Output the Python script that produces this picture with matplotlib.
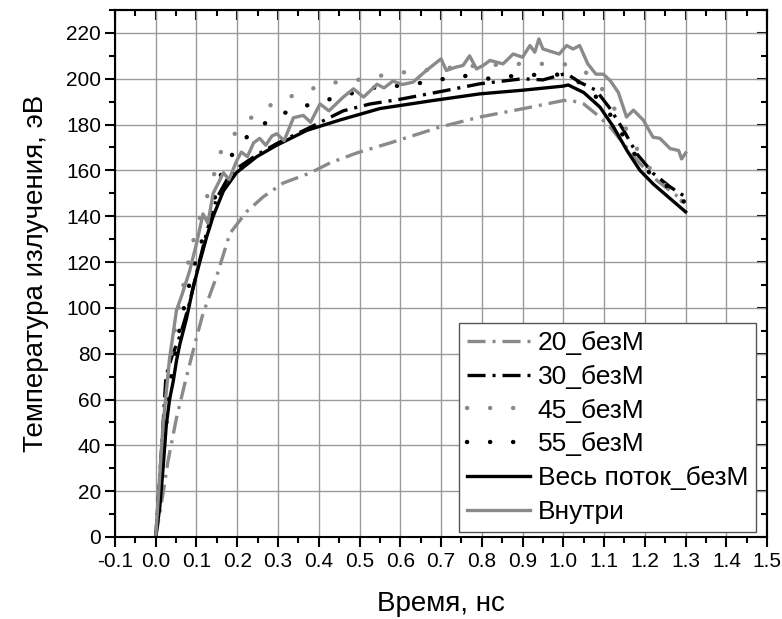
import numpy as np
import matplotlib
matplotlib.use('Agg')
import matplotlib.pyplot as plt
from matplotlib.ticker import MultipleLocator, FormatStrFormatter

plt.rcParams['font.family'] = ['Liberation Sans', 'DejaVu Sans']
plt.rcParams['axes.unicode_minus'] = False
plt.rcParams['lines.scale_dashes'] = False

# --- data (time in ns, temperature in eV) ---
t20 = [0, 0.018, 0.03, 0.051, 0.075, 0.1, 0.116, 0.149, 0.182, 0.223, 0.264, 0.313, 0.379,
       0.428, 0.493, 0.575, 0.697, 0.795, 0.90, 1.0, 1.02, 1.05, 1.08, 1.115, 1.148, 1.188,
       1.229, 1.27, 1.30]
T20 = [0, 19, 33, 52, 69.6, 87, 97.5, 113.5, 132.5, 142, 148.5, 154.5, 158.9,
       163.3, 167.6, 172, 178.9, 183.3, 186.9, 190.5, 190.5, 189, 184.7, 178.9, 171.6, 163,
       155.7, 150, 146.2]

t30 = [0, 0.015, 0.025, 0.04, 0.06, 0.08, 0.1, 0.125, 0.15, 0.175, 0.2, 0.25, 0.3, 0.37,
       0.46, 0.526, 0.598, 0.713, 0.795, 0.9, 0.95, 1.0, 1.01, 1.04, 1.08, 1.115, 1.148, 1.18,
       1.221, 1.262, 1.30]
T30 = [0, 40, 70, 79, 88, 100, 115, 133, 148, 156, 161, 167, 172, 178,
       186, 189, 191, 194.9, 197.8, 200, 199.5, 202, 202, 198.5, 195, 186.9, 177.5, 167.3,
       158.6, 152.8, 148.4]

t45 = [0, 0.02, 0.05, 0.08, 0.1, 0.125, 0.145, 0.161, 0.194, 0.231, 0.272, 0.313, 0.362,
       0.403, 0.444, 0.485, 0.534, 0.584, 0.623, 0.7, 0.795, 0.893, 1.0, 1.05, 1.09, 1.123,
       1.156, 1.196, 1.237, 1.27, 1.30]
T45 = [0, 50, 95, 120, 135, 148, 159.3, 168.7, 176, 182.6, 187.6, 191.2, 194.1,
       197, 198.5, 199.2, 200.7, 202.5, 203, 204.5, 205.8, 206.5, 206.5, 203.6, 197, 187.6,
       177.5, 164.4, 155.7, 150, 145]

t55 = [0, 0.02, 0.04, 0.06, 0.075, 0.1, 0.124, 0.145, 0.161, 0.186, 0.219, 0.26, 0.30,
       0.354, 0.403, 0.444, 0.5, 0.543, 0.588, 0.664, 0.75, 0.82, 0.885, 0.975, 1.0, 1.057,
       1.09, 1.123, 1.15, 1.18, 1.22, 1.27, 1.30]
T55 = [0, 40, 72, 92, 105, 122, 135, 148, 158.6, 166.5, 173.9, 179.7, 184,
       187.6, 189.8, 192, 194.5, 196.4, 196.8, 198.5, 201.4, 200, 201.4, 202, 201.5, 197,
       190, 182.5, 174, 165.8, 157.1, 151.3, 145.5]

t_full = [0, 0.01, 0.018, 0.026, 0.034, 0.043, 0.051, 0.059, 0.075, 0.092, 0.108, 0.125,
          0.141, 0.166, 0.198, 0.248, 0.297, 0.371, 0.452, 0.55, 0.68, 0.795, 0.90, 1.0,
          1.012, 1.05, 1.09, 1.123, 1.156, 1.188, 1.221, 1.262, 1.30]
T_full = [0, 13, 30, 49, 60, 68, 77, 84, 95, 109, 120, 131,
          140, 151, 159, 166, 171, 177.5, 182, 187, 190.5, 193.4, 195, 196.8,
          197.3, 194, 187.6, 179, 168.7, 160, 154, 147.7, 141.9]

t_in = [0, 0.018, 0.034, 0.051, 0.065, 0.083, 0.1, 0.116, 0.128, 0.141, 0.155, 0.166, 0.18,
        0.198, 0.21, 0.225, 0.24, 0.255, 0.27, 0.285, 0.297, 0.315, 0.338, 0.362, 0.38, 0.403,
        0.425, 0.46, 0.485, 0.51, 0.543, 0.56, 0.582, 0.605, 0.631, 0.664, 0.7, 0.713, 0.735,
        0.754, 0.77, 0.787, 0.805, 0.82, 0.852, 0.877, 0.90, 0.918, 0.93, 0.94, 0.95, 0.975,
        0.99, 1.008, 1.024, 1.04, 1.06, 1.08, 1.098, 1.115, 1.135, 1.155, 1.172, 1.196, 1.22,
        1.237, 1.262, 1.283, 1.29, 1.30]
T_in = [0, 49, 78, 99, 106, 116, 128, 141, 137, 150, 155, 159, 156,
        164, 168, 166, 172, 174, 171, 175, 176, 173, 183, 184, 181, 189,
        186, 192, 195.6, 192, 197.6, 196, 199, 197.5, 198.5, 203.6, 208.7, 203.6, 205,
        205.8, 210, 204.3, 206, 208, 206.5, 210.8, 209.4, 214.5, 211.6, 217.4, 213, 211.6,
        210.8, 214.5, 213, 214.5, 206.5, 202, 202, 199.2, 194, 183.3, 186.3, 182, 174.5,
        174, 169.5, 168.7, 165, 167.6]

labels = ['20_безМ', '30_безМ', '45_безМ', '55_безМ', 'Весь поток_безМ', 'Внутри']
xticks = np.arange(-0.1, 1.51, 0.1)
yticks = np.arange(0, 221, 20)

gray = '#8a8a8a'
dashdot = (0, (13, 5, 2.2, 5))
dots = (0, (0.1, 16.5))

fig = plt.figure(figsize=(7.82, 6.19), dpi=100)
ax = fig.add_axes([0.147, 0.1325, 0.834, 0.8513])

ax.grid(True, which='major', color='#9a9a9a', lw=1.0)
ax.set_axisbelow(True)

lw = 2.4
ax.plot(t20, T20, color=gray, lw=lw, ls=dashdot, label=labels[0])
ax.plot(t30, T30, color='black', lw=lw, ls=dashdot, label=labels[1])
ax.plot(t45, T45, color=gray, lw=lw + 0.8, ls=dots, dash_capstyle='round', label=labels[2])
ax.plot(t55, T55, color='black', lw=lw + 0.8, ls=dots, dash_capstyle='round', label=labels[3])
ax.plot(t_full, T_full, color='black', lw=lw, label=labels[4])
ax.plot(t_in, T_in, color=gray, lw=lw, label=labels[5])

ax.set_xlim(-0.1, 1.5)
ax.set_ylim(0, 230)
ax.set_xticks(xticks)
ax.set_yticks(yticks)
ax.xaxis.set_major_formatter(FormatStrFormatter('%.1f'))
ax.xaxis.set_minor_locator(MultipleLocator(0.05))
ax.yaxis.set_minor_locator(MultipleLocator(10))

for s in ax.spines.values():
    s.set_linewidth(1.5)
ax.tick_params(which='both', width=1.5, labelsize=15)
ax.tick_params(axis='x', which='major', direction='out', length=7, pad=4)
ax.tick_params(axis='y', which='major', direction='out', length=7, pad=3)
ax.tick_params(which='minor', direction='out', length=4)

# top and right ticks point inward, bottom and left outward
ax2 = ax.secondary_xaxis('top')
ax2.set_xticks(xticks)
ax2.xaxis.set_minor_locator(MultipleLocator(0.05))
ax2.tick_params(which='major', direction='in', length=7, width=1.5, labeltop=False)
ax2.tick_params(which='minor', direction='in', length=4, width=1.5)
ax2.spines['top'].set_linewidth(1.5)
ax3 = ax.secondary_yaxis('right')
ax3.set_yticks(yticks)
ax3.yaxis.set_minor_locator(MultipleLocator(10))
ax3.tick_params(which='major', direction='in', length=7, width=1.5, labelright=False)
ax3.tick_params(which='minor', direction='in', length=4, width=1.5)
ax3.spines['right'].set_linewidth(1.5)

ax.set_xlabel('Время, нс', fontsize=20, labelpad=14)
ax.set_ylabel('Температура излучения, эВ', fontsize=20, labelpad=12)

leg = ax.legend(loc='lower right', bbox_to_anchor=(0.983, 0.0095), borderaxespad=0,
                fontsize=19, fancybox=False, framealpha=1, edgecolor='#555555',
                handlelength=2.4, handletextpad=0.3, labelspacing=0.37, borderpad=0.3)
leg.get_frame().set_linewidth(1.0)

fig.savefig('out.png', dpi=100)
